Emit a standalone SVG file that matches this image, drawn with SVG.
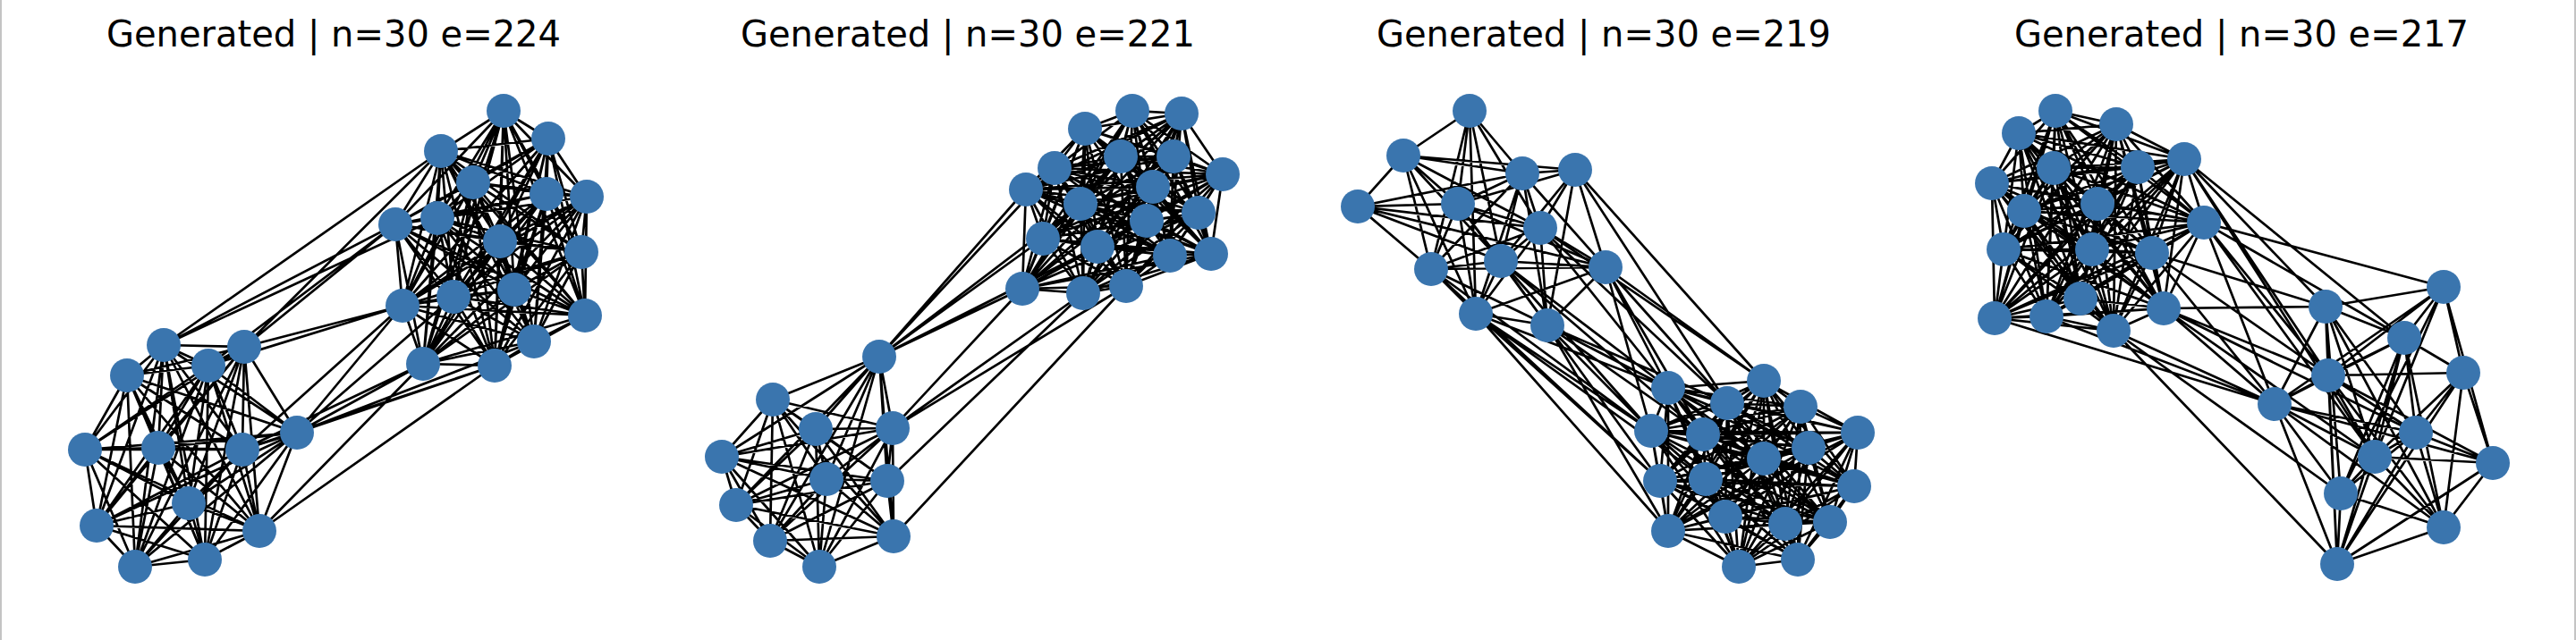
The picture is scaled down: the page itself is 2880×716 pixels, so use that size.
<svg xmlns="http://www.w3.org/2000/svg" width="2880" height="716" viewBox="0 0 2880 716">
<style>
.e{fill:none;stroke:#000;stroke-width:2.7;stroke-linejoin:round;stroke-linecap:round}
.n{fill:#3a75ae}
.t{font-family:"DejaVu Sans","Liberation Sans",sans-serif;font-size:40px;text-anchor:middle;fill:#000}
</style>
<rect width="2880" height="716" fill="#fff"/>
<line x1="1" y1="0" x2="1" y2="716" stroke="#b5b5b5" stroke-width="1.6"/>
<line x1="2879" y1="0" x2="2879" y2="716" stroke="#b5b5b5" stroke-width="1.6"/>
<g id="titles">
<text class="t" x="373" y="52">Generated | n=30 e=224</text>
<text class="t" x="1082" y="52">Generated | n=30 e=221</text>
<text class="t" x="1793" y="52">Generated | n=30 e=219</text>
<text class="t" x="2506" y="52">Generated | n=30 e=217</text>
</g>
<g id="connectors" class="e">
<path id="p1-top" d="M563 124L613 155 493 169 553 409 529 204 473 407 611 217 597 382 656 220 654 353 489 244 575 324 442 251 507 332 559 270 450 342 650 282 563 124 493 169 529 204 613 155 611 217 553 409 656 220 473 407 489 244 597 382 442 251 654 353 559 270 575 324 650 282 507 332 450 342 563 124 529 204 611 217 493 169 656 220 613 155 489 244 553 409 442 251 473 407 559 270 597 382 650 282 654 353 450 342 575 324 507 332 563 124 611 217 656 220 529 204 489 244 493 169 442 251 613 155 559 270 553 409 650 282 473 407 450 342 597 382 507 332 654 353 575 324 563 124 656 220 489 244 611 217 442 251 529 204 559 270 493 169 650 282 613 155 450 342 553 409 507 332 473 407 575 324 597 382 654 353 563 124 489 244 442 251 656 220 559 270 611 217 650 282 529 204 450 342 493 169 507 332 613 155 575 324 553 409 654 353 473 407 597 382 563 124 442 251 559 270 489 244 650 282 656 220 450 342 611 217 507 332 529 204 575 324 493 169 654 353 613 155 597 382 553 409 473 407 563 124 559 270 650 282 442 251 450 342 489 244 507 332 656 220 575 324 611 217 654 353 529 204 597 382 493 169 473 407 613 155 553 409 563 124"/>
<path id="p1-bottom" d="M177 501L183 386 273 388 229 626 233 409 151 634 142 420 290 594 332 484 108 588 95 503 211 563 271 503 177 501 273 388 233 409 183 386 142 420 229 626 332 484 151 634 95 503 290 594 271 503 108 588 211 563 177 501 233 409 142 420 273 388 332 484 183 386 95 503 229 626 271 503 151 634 211 563 290 594 108 588 177 501 142 420 332 484 233 409 95 503 273 388 271 503 183 386 211 563 229 626 108 588 151 634 290 594 177 501 332 484 95 503 142 420 271 503 233 409 211 563 273 388 108 588 183 386 290 594 229 626 151 634 177 501 95 503 271 503 332 484 211 563 142 420 108 588 233 409 290 594 273 388 151 634 183 386 229 626 177 501"/>
<path id="p1-bridge" d="M183 386L493 169M183 386L442 251M183 386L489 244M273 388L493 169M273 388L442 251M233 409L442 251M273 388L450 342M233 409L450 342M271 503L450 342M332 484L450 342M332 484L473 407M332 484L553 409M332 484L507 332M332 484L597 382M271 503L473 407M271 503L553 409M290 594L473 407M290 594L553 409"/>
<path id="p2-top" d="M1266 124L1321 127 1213 144 1259 320 1253 175 1211 328 1312 175 1143 323 1179 188 1354 284 1367 195 1308 286 1147 212 1227 276 1289 209 1166 267 1208 228 1282 247 1340 238 1266 124 1213 144 1253 175 1321 127 1312 175 1259 320 1179 188 1211 328 1367 195 1143 323 1147 212 1354 284 1289 209 1308 286 1208 228 1227 276 1340 238 1166 267 1282 247 1266 124 1253 175 1312 175 1213 144 1179 188 1321 127 1367 195 1259 320 1147 212 1211 328 1289 209 1143 323 1208 228 1354 284 1340 238 1308 286 1282 247 1227 276 1166 267 1266 124 1312 175 1179 188 1253 175 1367 195 1213 144 1147 212 1321 127 1289 209 1259 320 1208 228 1211 328 1340 238 1143 323 1282 247 1354 284 1166 267 1308 286 1227 276 1266 124 1179 188 1367 195 1312 175 1147 212 1253 175 1289 209 1213 144 1208 228 1321 127 1340 238 1259 320 1282 247 1211 328 1166 267 1143 323 1227 276 1354 284 1308 286 1266 124 1367 195 1147 212 1179 188 1289 209 1312 175 1208 228 1253 175 1340 238 1213 144 1282 247 1321 127 1166 267 1259 320 1227 276 1211 328 1308 286 1143 323 1354 284 1266 124 1147 212 1289 209 1367 195 1208 228 1179 188 1340 238 1312 175 1282 247 1253 175 1166 267 1213 144 1227 276 1321 127 1308 286 1259 320 1354 284 1211 328 1143 323 1266 124 1289 209 1208 228 1147 212 1340 238 1367 195 1282 247 1179 188 1166 267 1312 175 1227 276 1253 175 1308 286 1213 144 1354 284 1321 127 1143 323 1259 320 1211 328 1266 124 1208 228 1340 238 1289 209 1282 247 1147 212 1166 267 1367 195 1227 276 1179 188 1308 286 1312 175 1354 284 1253 175 1143 323 1213 144 1211 328 1321 127 1259 320 1266 124"/>
<path id="p2-bottom" d="M912 480L983 399 864 447 916 634 998 479 999 600 807 511 861 605 924 536 823 565 992 538 912 480 864 447 998 479 983 399 807 511 916 634 924 536 999 600 992 538 861 605 823 565 912 480 998 479 807 511 864 447 924 536 983 399 992 538 916 634 823 565 999 600 861 605 912 480 807 511 924 536 998 479 992 538 864 447 823 565 983 399 861 605 916 634 999 600 912 480 924 536 992 538 807 511 823 565 998 479 861 605 864 447 999 600 983 399 916 634 912 480"/>
<path id="p2-bridge" d="M983 399L1147 212M983 399L1179 188M983 399L1166 267M983 399L1143 323M983 399L1208 228M983 399L1227 276M998 479L1143 323M998 479L1211 328M998 479L1259 320M992 538L1211 328M999 600L1259 320"/>
<path id="p3-top" d="M1643 124L1569 174 1643 124 1702 194 1643 124 1630 228 1643 124 1722 255 1643 124 1600 301 1643 124 1678 292 1643 124 1650 351M1569 174L1702 194 1569 174 1761 190 1569 174 1518 231 1569 174 1630 228 1569 174 1722 255 1569 174 1600 301 1569 174 1678 292 1569 174 1650 351M1702 194L1761 190 1702 194 1518 231 1702 194 1630 228 1702 194 1722 255 1702 194 1600 301 1702 194 1678 292 1702 194 1795 299 1702 194 1650 351 1702 194 1730 364M1761 190L1630 228 1761 190 1722 255 1761 190 1678 292 1761 190 1795 299 1761 190 1730 364M1518 231L1630 228 1518 231 1722 255 1518 231 1600 301 1518 231 1678 292 1518 231 1795 299M1630 228L1722 255 1630 228 1600 301 1630 228 1678 292 1630 228 1795 299 1630 228 1650 351 1630 228 1730 364M1722 255L1600 301 1722 255 1678 292 1722 255 1795 299 1722 255 1650 351 1722 255 1730 364M1600 301L1678 292 1600 301 1795 299 1600 301 1650 351 1600 301 1730 364M1678 292L1795 299 1678 292 1650 351 1678 292 1730 364M1795 299L1650 351 1795 299 1730 364M1650 351L1730 364"/>
<path id="p3-bottom" d="M1865 434L1972 426 2010 626 1931 451 1944 634 2013 455 1865 594 1846 482 2046 584 1904 486 1996 586 2077 484 1929 578 2022 501 2073 544 1972 513 1907 536 1856 538M1972 426L1931 451 1865 434 2013 455 2010 626 1846 482 1944 634 1904 486 1865 594 2077 484 2046 584 2022 501 1996 586 1972 513 1929 578 1856 538 2073 544 1907 536M1931 451L2013 455 1972 426 1846 482 1865 434 1904 486 2010 626 2077 484 1944 634 2022 501 1865 594 1972 513 2046 584 1856 538 1996 586 1907 536 1929 578 2073 544M2013 455L1846 482 1931 451 1904 486 1972 426 2077 484 1865 434 2022 501 2010 626 1972 513 1944 634 1856 538 1865 594 1907 536 2046 584 2073 544 1996 586 1929 578M1846 482L1904 486 2013 455 2077 484 1931 451 2022 501 1972 426 1972 513 1865 434 1856 538 2010 626 1907 536 1944 634 2073 544 1865 594 1929 578 2046 584 1996 586M1904 486L2077 484 1846 482 2022 501 2013 455 1972 513 1931 451 1856 538 1972 426 1907 536 1865 434 2073 544 2010 626 1929 578 1944 634 1996 586 1865 594 2046 584M2077 484L2022 501 1904 486 1972 513 1846 482 1856 538 2013 455 1907 536 1931 451 2073 544 1972 426 1929 578 1865 434 1996 586 2010 626 2046 584 1944 634 1865 594M2022 501L1972 513 2077 484 1856 538 1904 486 1907 536 1846 482 2073 544 2013 455 1929 578 1931 451 1996 586 1972 426 2046 584 1865 434 1865 594 2010 626 1944 634M1972 513L1856 538 2022 501 1907 536 2077 484 2073 544 1904 486 1929 578 1846 482 1996 586 2013 455 2046 584 1931 451 1865 594 1972 426 1944 634 1865 434 2010 626"/>
<path id="p3-bridge" d="M1795 299L1865 434 1795 299 1972 426 1795 299 1931 451 1795 299 1846 482 1795 299 1904 486M1722 255L1972 426 1722 255 1865 434 1722 255 1931 451M1761 190L1972 426 1761 190 1931 451M1730 364L1865 434 1730 364 1846 482 1730 364 1904 486 1730 364 1856 538 1730 364 1865 594 1730 364 1931 451M1650 351L1846 482 1650 351 1856 538 1650 351 1865 594 1650 351 1865 434 1650 351 1907 536M1678 292L1865 434 1678 292 1846 482 1678 292 1904 486M1600 301L1846 482 1600 301 1856 538"/>
<path id="p4-top" d="M2298 124L2257 149 2363 370 2366 139 2288 354 2442 178 2230 356 2296 188 2419 345 2390 187 2326 334 2227 205 2406 283 2345 228 2339 279 2263 236 2240 279 2464 249M2257 149L2366 139 2298 124 2442 178 2363 370 2296 188 2288 354 2390 187 2230 356 2227 205 2419 345 2345 228 2326 334 2263 236 2406 283 2464 249 2339 279 2240 279M2366 139L2442 178 2257 149 2296 188 2298 124 2390 187 2363 370 2227 205 2288 354 2345 228 2230 356 2263 236 2419 345 2464 249 2326 334 2240 279 2406 283 2339 279M2442 178L2296 188 2366 139 2390 187 2257 149 2227 205 2298 124 2345 228 2363 370 2263 236 2288 354 2464 249 2230 356 2240 279 2419 345 2339 279 2326 334 2406 283M2296 188L2390 187 2442 178 2227 205 2366 139 2345 228 2257 149 2263 236 2298 124 2464 249 2363 370 2240 279 2288 354 2339 279 2230 356 2406 283 2419 345 2326 334M2390 187L2227 205 2296 188 2345 228 2442 178 2263 236 2366 139 2464 249 2257 149 2240 279 2298 124 2339 279 2363 370 2406 283 2288 354 2326 334 2230 356 2419 345M2227 205L2345 228 2390 187 2263 236 2296 188 2464 249 2442 178 2240 279 2366 139 2339 279 2257 149 2406 283 2298 124 2326 334 2363 370 2419 345 2288 354 2230 356M2345 228L2263 236 2227 205 2464 249 2390 187 2240 279 2296 188 2339 279 2442 178 2406 283 2366 139 2326 334 2257 149 2419 345 2298 124 2230 356 2363 370 2288 354M2263 236L2464 249 2345 228 2240 279 2227 205 2339 279 2390 187 2406 283 2296 188 2326 334 2442 178 2419 345 2366 139 2230 356 2257 149 2288 354 2298 124 2363 370"/>
<path id="p4-right" d="M2732 321L2600 343 2732 321 2688 378 2732 321 2603 420 2732 321 2754 417 2732 321 2543 452 2732 321 2655 511 2732 321 2787 518 2732 321 2617 552M2600 343L2688 378 2600 343 2603 420 2600 343 2543 452 2600 343 2701 484 2600 343 2655 511 2600 343 2617 552 2600 343 2732 590 2600 343 2613 631M2688 378L2603 420 2688 378 2754 417 2688 378 2543 452 2688 378 2701 484 2688 378 2655 511 2688 378 2617 552 2688 378 2732 590 2688 378 2613 631M2603 420L2754 417 2603 420 2543 452 2603 420 2701 484 2603 420 2655 511 2603 420 2787 518 2603 420 2732 590 2603 420 2613 631M2754 417L2701 484 2754 417 2655 511 2754 417 2787 518 2754 417 2732 590 2754 417 2613 631M2543 452L2701 484 2543 452 2655 511 2543 452 2787 518 2543 452 2617 552 2543 452 2732 590 2543 452 2613 631M2701 484L2655 511 2701 484 2787 518 2701 484 2617 552 2701 484 2732 590 2701 484 2613 631M2655 511L2787 518 2655 511 2617 552 2655 511 2732 590 2655 511 2613 631M2787 518L2732 590 2787 518 2613 631M2617 552L2732 590 2617 552 2613 631M2732 590L2613 631"/>
<path id="p4-bridge" d="M2442 178L2688 378 2442 178 2600 343 2442 178 2603 420 2442 178 2655 511M2464 249L2732 321 2464 249 2688 378 2464 249 2603 420 2464 249 2543 452 2464 249 2655 511M2406 283L2543 452 2406 283 2603 420 2406 283 2600 343M2419 345L2600 343 2419 345 2543 452 2419 345 2603 420 2419 345 2701 484 2419 345 2655 511M2363 370L2613 631 2363 370 2543 452 2363 370 2617 552M2230 356L2543 452M2288 354L2543 452"/>
</g>
<g id="panel1-nodes" class="n">
<g id="p1n01"><circle cx="563" cy="124" r="19"/></g>
<g id="p1n02"><circle cx="613" cy="155" r="19"/></g>
<g id="p1n03"><circle cx="493" cy="169" r="19"/></g>
<g id="p1n04"><circle cx="529" cy="204" r="19"/></g>
<g id="p1n05"><circle cx="611" cy="217" r="19"/></g>
<g id="p1n06"><circle cx="656" cy="220" r="19"/></g>
<g id="p1n07"><circle cx="489" cy="244" r="19"/></g>
<g id="p1n08"><circle cx="442" cy="251" r="19"/></g>
<g id="p1n09"><circle cx="559" cy="270" r="19"/></g>
<g id="p1n10"><circle cx="650" cy="282" r="19"/></g>
<g id="p1n11"><circle cx="450" cy="342" r="19"/></g>
<g id="p1n12"><circle cx="507" cy="332" r="19"/></g>
<g id="p1n13"><circle cx="575" cy="324" r="19"/></g>
<g id="p1n14"><circle cx="654" cy="353" r="19"/></g>
<g id="p1n15"><circle cx="597" cy="382" r="19"/></g>
<g id="p1n16"><circle cx="473" cy="407" r="19"/></g>
<g id="p1n17"><circle cx="553" cy="409" r="19"/></g>
<g id="p1n18"><circle cx="183" cy="386" r="19"/></g>
<g id="p1n19"><circle cx="273" cy="388" r="19"/></g>
<g id="p1n20"><circle cx="233" cy="409" r="19"/></g>
<g id="p1n21"><circle cx="142" cy="420" r="19"/></g>
<g id="p1n22"><circle cx="332" cy="484" r="19"/></g>
<g id="p1n23"><circle cx="95" cy="503" r="19"/></g>
<g id="p1n24"><circle cx="177" cy="501" r="19"/></g>
<g id="p1n25"><circle cx="271" cy="503" r="19"/></g>
<g id="p1n26"><circle cx="211" cy="563" r="19"/></g>
<g id="p1n27"><circle cx="108" cy="588" r="19"/></g>
<g id="p1n28"><circle cx="290" cy="594" r="19"/></g>
<g id="p1n29"><circle cx="151" cy="634" r="19"/></g>
<g id="p1n30"><circle cx="229" cy="626" r="19"/></g>
</g>
<g id="panel2-nodes" class="n">
<g id="p2n01"><circle cx="1266" cy="124" r="19"/></g>
<g id="p2n02"><circle cx="1321" cy="127" r="19"/></g>
<g id="p2n03"><circle cx="1213" cy="144" r="19"/></g>
<g id="p2n04"><circle cx="1253" cy="175" r="19"/></g>
<g id="p2n05"><circle cx="1312" cy="175" r="19"/></g>
<g id="p2n06"><circle cx="1179" cy="188" r="19"/></g>
<g id="p2n07"><circle cx="1367" cy="195" r="19"/></g>
<g id="p2n08"><circle cx="1147" cy="212" r="19"/></g>
<g id="p2n09"><circle cx="1289" cy="209" r="19"/></g>
<g id="p2n10"><circle cx="1208" cy="228" r="19"/></g>
<g id="p2n11"><circle cx="1340" cy="238" r="19"/></g>
<g id="p2n12"><circle cx="1282" cy="247" r="19"/></g>
<g id="p2n13"><circle cx="1166" cy="267" r="19"/></g>
<g id="p2n14"><circle cx="1227" cy="276" r="19"/></g>
<g id="p2n15"><circle cx="1308" cy="286" r="19"/></g>
<g id="p2n16"><circle cx="1354" cy="284" r="19"/></g>
<g id="p2n17"><circle cx="1143" cy="323" r="19"/></g>
<g id="p2n18"><circle cx="1211" cy="328" r="19"/></g>
<g id="p2n19"><circle cx="1259" cy="320" r="19"/></g>
<g id="p2n20"><circle cx="983" cy="399" r="19"/></g>
<g id="p2n21"><circle cx="864" cy="447" r="19"/></g>
<g id="p2n22"><circle cx="912" cy="480" r="19"/></g>
<g id="p2n23"><circle cx="998" cy="479" r="19"/></g>
<g id="p2n24"><circle cx="807" cy="511" r="19"/></g>
<g id="p2n25"><circle cx="924" cy="536" r="19"/></g>
<g id="p2n26"><circle cx="992" cy="538" r="19"/></g>
<g id="p2n27"><circle cx="823" cy="565" r="19"/></g>
<g id="p2n28"><circle cx="861" cy="605" r="19"/></g>
<g id="p2n29"><circle cx="999" cy="600" r="19"/></g>
<g id="p2n30"><circle cx="916" cy="634" r="19"/></g>
</g>
<g id="panel3-nodes" class="n">
<g id="p3n01"><circle cx="1643" cy="124" r="19"/></g>
<g id="p3n02"><circle cx="1569" cy="174" r="19"/></g>
<g id="p3n03"><circle cx="1702" cy="194" r="19"/></g>
<g id="p3n04"><circle cx="1761" cy="190" r="19"/></g>
<g id="p3n05"><circle cx="1518" cy="231" r="19"/></g>
<g id="p3n06"><circle cx="1630" cy="228" r="19"/></g>
<g id="p3n07"><circle cx="1722" cy="255" r="19"/></g>
<g id="p3n08"><circle cx="1600" cy="301" r="19"/></g>
<g id="p3n09"><circle cx="1678" cy="292" r="19"/></g>
<g id="p3n10"><circle cx="1795" cy="299" r="19"/></g>
<g id="p3n11"><circle cx="1650" cy="351" r="19"/></g>
<g id="p3n12"><circle cx="1730" cy="364" r="19"/></g>
<g id="p3n13"><circle cx="1865" cy="434" r="19"/></g>
<g id="p3n14"><circle cx="1972" cy="426" r="19"/></g>
<g id="p3n15"><circle cx="1931" cy="451" r="19"/></g>
<g id="p3n16"><circle cx="2013" cy="455" r="19"/></g>
<g id="p3n17"><circle cx="1846" cy="482" r="19"/></g>
<g id="p3n18"><circle cx="1904" cy="486" r="19"/></g>
<g id="p3n19"><circle cx="2077" cy="484" r="19"/></g>
<g id="p3n20"><circle cx="2022" cy="501" r="19"/></g>
<g id="p3n21"><circle cx="1972" cy="513" r="19"/></g>
<g id="p3n22"><circle cx="1856" cy="538" r="19"/></g>
<g id="p3n23"><circle cx="1907" cy="536" r="19"/></g>
<g id="p3n24"><circle cx="2073" cy="544" r="19"/></g>
<g id="p3n25"><circle cx="1929" cy="578" r="19"/></g>
<g id="p3n26"><circle cx="1996" cy="586" r="19"/></g>
<g id="p3n27"><circle cx="2046" cy="584" r="19"/></g>
<g id="p3n28"><circle cx="1865" cy="594" r="19"/></g>
<g id="p3n29"><circle cx="1944" cy="634" r="19"/></g>
<g id="p3n30"><circle cx="2010" cy="626" r="19"/></g>
</g>
<g id="panel4-nodes" class="n">
<g id="p4n01"><circle cx="2298" cy="124" r="19"/></g>
<g id="p4n02"><circle cx="2257" cy="149" r="19"/></g>
<g id="p4n03"><circle cx="2366" cy="139" r="19"/></g>
<g id="p4n04"><circle cx="2442" cy="178" r="19"/></g>
<g id="p4n05"><circle cx="2296" cy="188" r="19"/></g>
<g id="p4n06"><circle cx="2390" cy="187" r="19"/></g>
<g id="p4n07"><circle cx="2227" cy="205" r="19"/></g>
<g id="p4n08"><circle cx="2345" cy="228" r="19"/></g>
<g id="p4n09"><circle cx="2263" cy="236" r="19"/></g>
<g id="p4n10"><circle cx="2464" cy="249" r="19"/></g>
<g id="p4n11"><circle cx="2240" cy="279" r="19"/></g>
<g id="p4n12"><circle cx="2339" cy="279" r="19"/></g>
<g id="p4n13"><circle cx="2406" cy="283" r="19"/></g>
<g id="p4n14"><circle cx="2326" cy="334" r="19"/></g>
<g id="p4n15"><circle cx="2419" cy="345" r="19"/></g>
<g id="p4n16"><circle cx="2230" cy="356" r="19"/></g>
<g id="p4n17"><circle cx="2288" cy="354" r="19"/></g>
<g id="p4n18"><circle cx="2363" cy="370" r="19"/></g>
<g id="p4n19"><circle cx="2732" cy="321" r="19"/></g>
<g id="p4n20"><circle cx="2600" cy="343" r="19"/></g>
<g id="p4n21"><circle cx="2688" cy="378" r="19"/></g>
<g id="p4n22"><circle cx="2603" cy="420" r="19"/></g>
<g id="p4n23"><circle cx="2754" cy="417" r="19"/></g>
<g id="p4n24"><circle cx="2543" cy="452" r="19"/></g>
<g id="p4n25"><circle cx="2701" cy="484" r="19"/></g>
<g id="p4n26"><circle cx="2655" cy="511" r="19"/></g>
<g id="p4n27"><circle cx="2787" cy="518" r="19"/></g>
<g id="p4n28"><circle cx="2617" cy="552" r="19"/></g>
<g id="p4n29"><circle cx="2732" cy="590" r="19"/></g>
<g id="p4n30"><circle cx="2613" cy="631" r="19"/></g>
</g>
</svg>
